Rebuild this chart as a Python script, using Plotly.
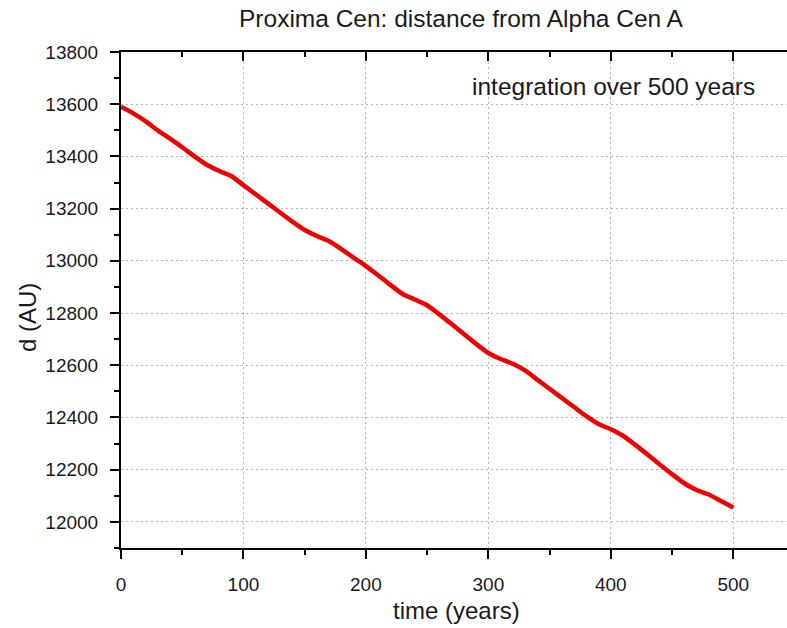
import plotly.graph_objects as go

# Data
time_years = [0, 10, 20, 30, 40, 50, 60, 70, 80, 90,
              100, 110, 120, 130, 140, 150, 160, 170, 180, 190,
              200, 210, 220, 230, 240, 250, 260, 270, 280, 290,
              300, 310, 320, 330, 340, 350, 360, 370, 380, 390,
              400, 410, 420, 430, 440, 450, 460, 470, 480, 490, 500]
distance_au = [13590, 13565, 13535, 13500, 13468, 13435, 13400, 13368, 13345, 13325,
               13290, 13255, 13220, 13185, 13150, 13118, 13095, 13075, 13045, 13012,
               12980, 12945, 12908, 12873, 12852, 12830, 12795, 12758, 12720, 12682,
               12647, 12624, 12606, 12580, 12545, 12510, 12475, 12440, 12405, 12375,
               12355, 12330, 12295, 12258, 12220, 12183, 12148, 12122, 12105, 12080, 12055]

x_ticks = [0, 100, 200, 300, 400, 500]
y_ticks = [12000, 12200, 12400, 12600, 12800, 13000, 13200, 13400, 13600, 13800]

title_text = "Proxima Cen: distance from Alpha Cen A"
note_text = "integration over 500 years"
x_title = "time (years)"
y_title = "d (AU)"

FONT = "Liberation Sans, Arial, Helvetica, sans-serif"
TXT = "#1a1a1a"
X_RANGE = [0, 543.9]
Y_RANGE = [11900, 13800]
GRID = "#b4b4b4"

fig = go.Figure()
fig.add_trace(go.Scatter(
    x=time_years, y=distance_au, mode="lines",
    line=dict(color="#f00000", width=4.5, shape="spline", smoothing=0.6),
    showlegend=False, hoverinfo="skip",
))
# invisible trace to anchor the top (mirror) axis
fig.add_trace(go.Scatter(
    x=time_years[:1], y=distance_au[:1], xaxis="x2", mode="lines",
    opacity=0, showlegend=False, hoverinfo="skip",
))

fig.update_layout(
    width=787, height=628,
    margin=dict(l=121, r=0, t=52, b=80),
    paper_bgcolor="white", plot_bgcolor="white",
    font=dict(family=FONT, color=TXT),
    xaxis=dict(
        range=X_RANGE, tickvals=x_ticks, ticktext=[str(v) for v in x_ticks],
        showline=True, linecolor="black", linewidth=2,
        ticks="outside", ticklen=9, tickwidth=2, tickcolor="black",
        ticklabelstandoff=9,
        tickfont=dict(size=19, family=FONT, color=TXT),
        showgrid=True, gridcolor=GRID, griddash="2px,3px", gridwidth=1,
        zeroline=False,
        minor=dict(dtick=50, tick0=0, ticks="outside", ticklen=5, tickwidth=2,
                   tickcolor="black", showgrid=False),
    ),
    xaxis2=dict(
        range=X_RANGE, overlaying="x", side="top", anchor="y",
        tickvals=x_ticks, showticklabels=False,
        showline=True, linecolor="black", linewidth=2,
        ticks="inside", ticklen=9, tickwidth=2, tickcolor="black",
        showgrid=False, zeroline=False,
        minor=dict(dtick=50, tick0=0, ticks="inside", ticklen=5, tickwidth=2,
                   tickcolor="black", showgrid=False),
    ),
    yaxis=dict(
        range=Y_RANGE, tickvals=y_ticks, ticktext=[str(v) for v in y_ticks],
        showline=True, linecolor="black", linewidth=2,
        ticks="outside", ticklen=9, tickwidth=2, tickcolor="black",
        ticklabelstandoff=8,
        tickfont=dict(size=19, family=FONT, color=TXT),
        showgrid=True, gridcolor=GRID, griddash="2px,3px", gridwidth=1,
        zeroline=False,
        minor=dict(dtick=100, tick0=11900, ticks="outside", ticklen=5, tickwidth=2,
                   tickcolor="black", showgrid=False),
    ),
    annotations=[
        dict(text=title_text, xref="paper", yref="paper",
             x=(461 - 121) / 666, y=(548 - 19) / 496,
             xanchor="center", yanchor="middle", showarrow=False,
             font=dict(size=24.5, family=FONT, color=TXT)),
        dict(text=note_text, xref="paper", yref="paper",
             x=(613 - 121) / 666, y=(548 - 86) / 496,
             xanchor="center", yanchor="middle", showarrow=False,
             font=dict(size=24.5, family=FONT, color=TXT)),
        dict(text=x_title, xref="paper", yref="paper",
             x=(457 - 121) / 666, y=(548 - 610) / 496,
             xanchor="center", yanchor="middle", showarrow=False,
             font=dict(size=24, family=FONT, color=TXT)),
        dict(text=y_title, xref="paper", yref="paper",
             x=(27 - 121) / 666, y=(548 - 317) / 496, textangle=-90,
             xanchor="center", yanchor="middle", showarrow=False,
             font=dict(size=24, family=FONT, color=TXT)),
    ],
)

fig.write_html(
    "out.html",
    config={"displayModeBar": False},
    post_script="document.body.style.margin='0px';document.body.style.padding='0px';",
)
